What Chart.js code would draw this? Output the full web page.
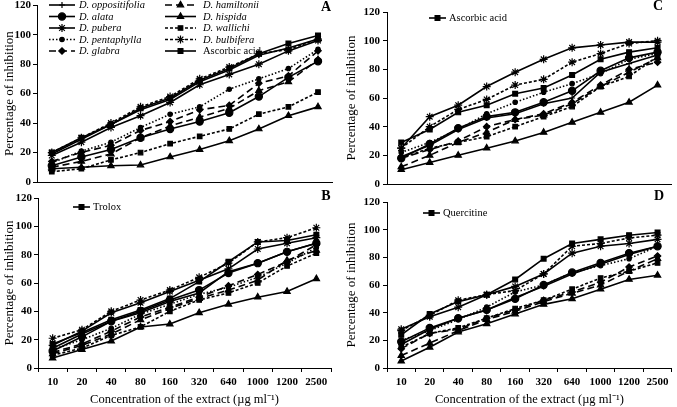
<!DOCTYPE html>
<html><head><meta charset="utf-8">
<script src="https://cdn.jsdelivr.net/npm/chart.js@4.4.0/dist/chart.umd.min.js"></script>
<style>
html,body{margin:0;padding:0;background:#fff;}
#wrap{position:relative;width:677px;height:407px;overflow:hidden;}
canvas{position:absolute;}
</style></head><body>
<div id="wrap">
<canvas id="cA" width="338" height="190" style="left:0;top:0;width:338px;height:190px"></canvas>
<canvas id="cB" width="338" height="217" style="left:0;top:190px;width:338px;height:217px"></canvas>
<canvas id="cC" width="339" height="190" style="left:338px;top:0;width:339px;height:190px"></canvas>
<canvas id="cD" width="339" height="217" style="left:338px;top:190px;width:339px;height:217px"></canvas>
</div>
<script>
// ---- categories / labels ----
const concentrations = ['10','20','40','80','160','320','640','1000','1200','2500'];
const speciesNames = ['D. oppositifolia','D. alata','D. pubera','D. pentaphylla','D. glabra',
                      'D. hamiltonii','D. hispida','D. wallichi','D. bulbifera'];
const standardA = 'Ascorbic acid';
const standardB = 'Trolox';
const standardC = 'Ascorbic acid';
const standardD = 'Quercitine';
const yTicks = [0,20,40,60,80,100,120];

// ---- Panel A ----
const A_oppositifolia = [19, 29, 39, 49, 56, 68, 76, 86, 91, 97];
const A_alata         = [11, 17, 22, 30, 36, 41, 47, 58, 71, 82];
const A_pubera        = [18, 27, 37, 45, 54, 66, 73, 80, 89, 96];
const A_pentaphylla   = [13, 21, 27, 37, 46, 51, 63, 70, 77, 90];
const A_glabra        = [14, 20, 25, 35, 41, 49, 52, 67, 72, 89];
const A_hamiltonii    = [10, 14, 19, 30, 38, 44, 50, 62, 68, 83];
const A_hispida       = [9, 10, 11, 11.5, 17, 22, 28, 36, 45, 51];
const A_wallichi      = [7, 9, 15, 20, 26, 31, 36, 46, 51, 61];
const A_bulbifera     = [20, 30, 40, 51, 58, 70, 78, 87, 90, 97];
const A_standard      = [20, 30, 39, 50, 57, 69, 77, 87, 94, 99.5];

// ---- Panel B ----
const B_oppositifolia = [14, 24, 33, 39, 47, 53, 68, 74, 82, 88];
const B_alata         = [12, 22, 33, 40, 48, 55, 67, 74, 82, 88];
const B_pubera        = [16, 26, 39, 46, 54, 62, 70, 84, 88, 92];
const B_pentaphylla   = [13, 20, 28, 38, 45, 52, 57, 64, 74, 85];
const B_glabra        = [11, 17, 26, 36, 43, 50, 58, 66, 75, 87];
const B_hamiltonii    = [10, 16, 24, 34, 42, 49, 55, 62, 76, 83];
const B_hispida       = [7, 13, 19, 29, 31, 39, 45, 50, 54, 63];
const B_wallichi      = [9, 14, 23, 29, 40, 48, 53, 60, 72, 81];
const B_bulbifera     = [21, 27, 40, 48, 55, 64, 74, 89, 92, 99];
const B_standard      = [17, 25, 34, 41, 49, 61, 75, 89, 90, 94];

// ---- Panel C ----
const C_oppositifolia = [19, 27, 38, 46, 49, 56, 60, 78, 84, 90];
const C_alata         = [18, 28, 39, 47, 50, 57, 65, 79, 88, 92];
const C_pubera        = [25, 47, 55, 68, 78, 87, 95, 97, 99, 99];
const C_pentaphylla   = [22, 29, 38, 49, 57, 64, 70, 77, 87, 91];
const C_glabra        = [18, 24, 30, 40, 45, 49, 57, 69, 80, 85];
const C_hamiltonii    = [12, 20, 29, 36, 45, 48, 56, 68, 78, 88];
const C_hispida       = [10, 15, 20, 25, 30, 36, 43, 50, 57, 69];
const C_wallichi      = [18, 25, 29, 33, 40, 47, 54, 68, 75, 89];
const C_bulbifera     = [25, 40, 52, 59, 69, 73, 85, 91, 98, 100];
const C_standard      = [29, 38, 50, 55, 63, 67, 76, 87, 92, 95];

// ---- Panel D ----
const D_oppositifolia = [17, 28, 36, 42, 51, 59, 68, 75, 82, 88];
const D_alata         = [19, 29, 36, 42, 50, 60, 69, 76, 83, 88];
const D_pubera        = [28, 37, 44, 53, 59, 68, 83, 88, 90, 93];
const D_pentaphylla   = [20, 27, 35, 44, 55, 60, 69, 74, 79, 88];
const D_glabra        = [14, 25, 28, 36, 42, 49, 55, 62, 73, 81];
const D_hamiltonii    = [9, 18, 27, 35, 41, 48, 54, 60, 70, 79];
const D_hispida       = [5, 15, 26, 32, 39, 46, 50, 57, 64, 67];
const D_wallichi      = [15, 25, 29, 36, 43, 49, 57, 65, 70, 76];
const D_bulbifera     = [27, 38, 49, 53, 56, 68, 88, 90, 94, 96];
const D_standard      = [24, 39, 48, 53, 64, 79, 90, 93, 96, 98];

// ---- styles (not data) ----
const SERIF = "'Liberation Serif','Times New Roman',serif";
const seriesStyles = [
  {dash: [],     ps: 'cross',    r: 3,   rot: 0},   // oppositifolia
  {dash: [],     ps: 'circle',   r: 3.6, rot: 0},   // alata
  {dash: [],     ps: 'star',     r: 4,   rot: 0},   // pubera
  {dash: [1.5,2],ps: 'circle',   r: 2.2, rot: 0},   // pentaphylla
  {dash: [7,4],  ps: 'rectRot',  r: 3.2, rot: 0},   // glabra
  {dash: [7,4],  ps: 'triangle', r: 3.6, rot: 0},   // hamiltonii
  {dash: [],     ps: 'triangle', r: 3.6, rot: 0},   // hispida
  {dash: [3,2],  ps: 'rect',     r: 3.2, rot: 0},   // wallichi
  {dash: [3,2],  ps: 'star',     r: 4,   rot: 0},   // bulbifera
  {dash: [],     ps: 'rect',     r: 3.4, rot: 0}    // standard
];

function buildDatasets(seriesArrays, standardName){
  const names = speciesNames.concat([standardName]);
  return seriesArrays.map((vals, i) => {
    const st = seriesStyles[i];
    return {
      label: names[i], data: vals,
      borderColor: '#000', backgroundColor: '#000', borderWidth: 1.6,
      borderDash: st.dash, tension: 0, fill: false,
      pointStyle: st.ps, pointRadius: st.r, pointRotation: st.rot,
      pointBackgroundColor: '#000', pointBorderColor: '#000', pointBorderWidth: 1.2
    };
  });
}

const customLegend = {
  id: 'customLegend',
  afterDraw(chart, args, opts){
    const ctx = chart.ctx;
    (opts.items || []).forEach(it => {
      const ds = chart.data.datasets[it.index];
      ctx.save();
      ctx.strokeStyle = '#000'; ctx.fillStyle = '#000';
      ctx.lineWidth = ds.borderWidth;
      ctx.setLineDash(ds.borderDash || []);
      ctx.beginPath(); ctx.moveTo(it.x0, it.y); ctx.lineTo(it.x1, it.y); ctx.stroke();
      ctx.setLineDash([]);
      ctx.lineWidth = 1.2;
      if (Chart.helpers && Chart.helpers.drawPoint) {
        Chart.helpers.drawPoint(ctx, {pointStyle: ds.pointStyle, radius: ds.pointRadius, rotation: ds.pointRotation || 0, borderWidth: 1.2}, (it.x0 + it.x1) / 2, it.y);
      }
      ctx.font = (it.italic ? 'italic ' : '') + (opts.size || 11) + 'px ' + SERIF;
      ctx.textBaseline = 'middle'; ctx.textAlign = 'left';
      ctx.fillText(ds.label, it.tx, it.y + 0.5);
      ctx.restore();
    });
    if (opts.letter) {
      ctx.save();
      ctx.font = 'bold 14px ' + SERIF; ctx.fillStyle = '#000';
      ctx.textAlign = 'center'; ctx.textBaseline = 'middle';
      ctx.fillText(opts.letter.text, opts.letter.x, opts.letter.y);
      ctx.restore();
    }
  }
};

function makePanel(id, seriesArrays, standardName, L){
  const tickFont = {family: SERIF, size: 11, weight: 'bold'};
  new Chart(document.getElementById(id), {
    type: 'line',
    data: {labels: concentrations, datasets: buildDatasets(seriesArrays, standardName)},
    plugins: [customLegend],
    options: {
      responsive: false, animation: false, devicePixelRatio: 1,
      layout: {padding: {top: L.padTop, right: L.padRight, left: 0, bottom: 0}},
      plugins: {
        legend: {display: false}, tooltip: {enabled: false},
        customLegend: {items: L.legend, size: 10.5, letter: L.letter}
      },
      scales: {
        x: {
          type: 'category', offset: true,
          ticks: {display: L.showX, font: tickFont, color: '#000', padding: 4, maxRotation: 0, autoSkip: false},
          grid: {drawOnChartArea: false, offset: true, drawTicks: L.showX, tickLength: 4, color: '#000'},
          border: {color: '#000', width: 1},
          title: {display: L.showX, text: 'Concentration of the extract (µg ml⁻¹)', color: '#000',
                  font: {family: SERIF, size: 12.5}, padding: {top: 0, bottom: 0}},
          afterFit(s){ s.height = L.xHeight; s.paddingLeft = 0; s.paddingRight = 0; }
        },
        y: {
          min: 0, max: 120,
          afterBuildTicks(s){ s.ticks = yTicks.map(v => ({value: v})); },
          ticks: {font: tickFont, color: '#000', padding: L.tickPad},
          grid: {drawOnChartArea: false, drawTicks: true, tickLength: 4, color: '#000'},
          border: {color: '#000', width: 1},
          title: {display: true, text: 'Percentage of inhibition', color: '#000',
                  font: {family: SERIF, size: 13}, padding: {top: L.titlePad, bottom: 0}},
          afterFit(s){ s.width = L.yWidth; s.paddingTop = 0; s.paddingBottom = 0; }
        }
      }
    }
  });
}

makePanel('cA',
  [A_oppositifolia, A_alata, A_pubera, A_pentaphylla, A_glabra, A_hamiltonii, A_hispida, A_wallichi, A_bulbifera, A_standard],
  standardA,
  {padTop: 5, padRight: 5, xHeight: 8, yWidth: 37, showX: false, tickPad: 2, titlePad: 2,
   letter: {text: 'A', x: 326, y: 7},
   legend: [
     {index: 0, x0: 49, x1: 75, tx: 79, y: 5, italic: true},
     {index: 1, x0: 49, x1: 75, tx: 79, y: 16.5, italic: true},
     {index: 2, x0: 49, x1: 75, tx: 79, y: 28, italic: true},
     {index: 3, x0: 49, x1: 75, tx: 79, y: 39.5, italic: true},
     {index: 4, x0: 49, x1: 75, tx: 79, y: 51, italic: true},
     {index: 5, x0: 165, x1: 196, tx: 203, y: 5, italic: true},
     {index: 6, x0: 165, x1: 196, tx: 203, y: 16.5, italic: true},
     {index: 7, x0: 165, x1: 196, tx: 203, y: 28, italic: true},
     {index: 8, x0: 165, x1: 196, tx: 203, y: 39.5, italic: true},
     {index: 9, x0: 165, x1: 196, tx: 203, y: 51, italic: false}
   ]});

makePanel('cB',
  [B_oppositifolia, B_alata, B_pubera, B_pentaphylla, B_glabra, B_hamiltonii, B_hispida, B_wallichi, B_bulbifera, B_standard],
  standardB,
  {padTop: 8, padRight: 7, xHeight: 39, yWidth: 38, showX: true, tickPad: 2, titlePad: 2,
   letter: {text: 'B', x: 326, y: 6},
   legend: [{index: 9, x0: 73, x1: 90, tx: 93, y: 17, italic: false}]});

makePanel('cC',
  [C_oppositifolia, C_alata, C_pubera, C_pentaphylla, C_glabra, C_hamiltonii, C_hispida, C_wallichi, C_bulbifera, C_standard],
  standardC,
  {padTop: 12, padRight: 2, xHeight: 6, yWidth: 49, showX: false, tickPad: 3, titlePad: 6,
   letter: {text: 'C', x: 320, y: 6},
   legend: [{index: 9, x0: 91, x1: 108, tx: 111, y: 18, italic: false}]});

makePanel('cD',
  [D_oppositifolia, D_alata, D_pubera, D_pentaphylla, D_glabra, D_hamiltonii, D_hispida, D_wallichi, D_bulbifera, D_standard],
  standardD,
  {padTop: 12, padRight: 2, xHeight: 39, yWidth: 49, showX: true, tickPad: 3, titlePad: 6,
   letter: {text: 'D', x: 321, y: 6},
   legend: [{index: 9, x0: 85, x1: 102, tx: 105, y: 23, italic: false}]});
</script>
</body></html>
